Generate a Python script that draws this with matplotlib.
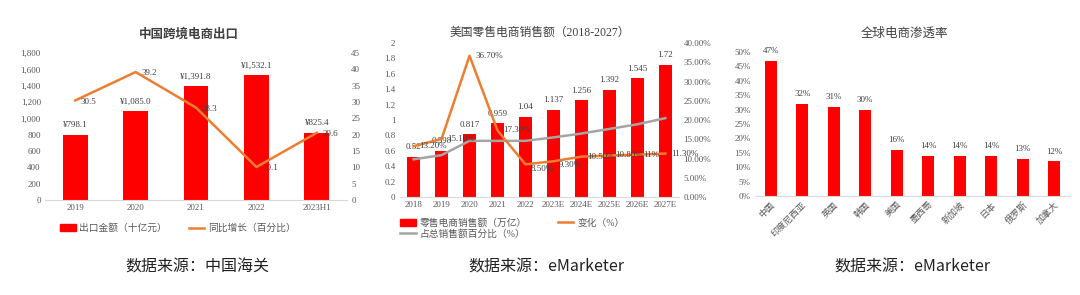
import matplotlib
matplotlib.use("Agg")
import matplotlib.pyplot as plt
from matplotlib.patches import Patch
from matplotlib.lines import Line2D
import numpy as np

plt.rcParams['font.family'] = ['Liberation Serif', 'Noto Sans CJK SC', 'DejaVu Sans']

RED = '#FF0000'
ORANGE = '#ED7D31'
GRAY = '#A5A5A5'
TXT = '#595959'

# chart 1: 中国跨境电商出口
years1 = ['2019', '2020', '2021', '2022', '2023H1']
export_amt = [798.1, 1085.0, 1391.8, 1532.1, 825.4]
export_yoy = [30.5, 39.2, 28.3, 10.1, 20.6]

# chart 2: 美国零售电商销售额
years2 = ['2018', '2019', '2020', '2021', '2022', '2023E', '2024E', '2025E', '2026E', '2027E']
us_sales = [0.52, 0.598, 0.817, 0.959, 1.04, 1.137, 1.256, 1.392, 1.545, 1.72]
us_change = [13.2, 15.1, 36.7, 17.3, 8.5, 9.3, 10.5, 10.8, 11.0, 11.3]
us_change_lbl = ['13.20%', '15.10%', '36.70%', '17.30%', '8.50%', '9.30%', '10.50%', '10.80%', '11%', '11.30%']
us_share = [9.8, 10.9, 14.6, 14.6, 14.6, 15.5, 16.5, 17.7, 18.9, 20.5]

# chart 3: 全球电商渗透率
countries = ['中国', '印度尼西亚', '英国', '韩国', '美国', '墨西哥', '新加坡', '日本', '俄罗斯', '加拿大']
penetration = [47, 32, 31, 30, 16, 14, 14, 14, 13, 12]

fig = plt.figure(figsize=(10.8, 2.95), dpi=100)


def style(ax):
    for s in ['top', 'left', 'right']:
        ax.spines[s].set_visible(False)
    ax.spines['bottom'].set_color('#D9D9D9')
    ax.tick_params(axis='both', length=0, labelsize=6.5, colors=TXT, pad=3)


# ---- chart 1
ax1 = fig.add_axes([0.0417, 0.322, 0.2796, 0.498])
x1 = np.arange(len(years1))
ax1.bar(x1, export_amt, width=0.41, color=RED)
ax1.set_xlim(-0.5, len(years1) - 0.5)
ax1.set_ylim(0, 1800)
ax1.set_yticks(np.arange(0, 1801, 200))
ax1.set_yticklabels([f'{v:,}' for v in range(0, 1801, 200)])
ax1.set_xticks(x1)
ax1.set_xticklabels(years1)
style(ax1)
for xi, v in zip(x1, export_amt):
    ax1.annotate(f'¥{v:,.1f}', (xi, v), xytext=(0, 4), textcoords='offset points',
                 ha='center', va='bottom', fontsize=6.5, color='#404040')
ax1b = ax1.twinx()
ax1b.plot(x1, export_yoy, color=ORANGE, lw=1.8)
ax1b.set_ylim(0, 45)
ax1b.set_yticks(range(0, 46, 5))
style(ax1b)
ax1b.spines['bottom'].set_visible(False)
for xi, v in zip(x1, export_yoy):
    ax1b.annotate(f'{v}', (xi, v), xytext=(4, -1), textcoords='offset points',
                  ha='left', va='center', fontsize=6.5, color='#404040')
ax1.set_title('中国跨境电商出口', fontsize=9, color='#404040', fontweight='bold',
              pad=11, x=0.475)
ax1.legend(handles=[Patch(color=RED, label='出口金额（十亿元）'),
                    Line2D([], [], color=ORANGE, lw=1.8, label='同比增长（百分比）')],
           loc='upper center', bbox_to_anchor=(0.44, -0.1), ncol=2, frameon=False,
           fontsize=7, handlelength=1.6, handleheight=0.8, columnspacing=2.2,
           handletextpad=0.4, labelcolor=TXT)

# ---- chart 2
ax2 = fig.add_axes([0.370, 0.332, 0.259, 0.522])
x2 = np.arange(len(years2))
ax2.bar(x2, us_sales, width=0.46, color=RED)
ax2.set_xlim(-0.5, len(years2) - 0.5)
ax2.set_ylim(0, 2)
ax2.set_yticks(np.arange(0, 2.01, 0.2))
ax2.set_yticklabels(['0', '0.2', '0.4', '0.6', '0.8', '1', '1.2', '1.4', '1.6', '1.8', '2'])
ax2.set_xticks(x2)
ax2.set_xticklabels(years2)
style(ax2)
for xi, v in zip(x2, us_sales):
    ax2.annotate(f'{v:g}', (xi, v), xytext=(0, 4), textcoords='offset points',
                 ha='center', va='bottom', fontsize=6.5, color='#404040')
ax2b = ax2.twinx()
ax2b.plot(x2, us_share, color=GRAY, lw=1.8)
ax2b.plot(x2, us_change, color=ORANGE, lw=1.8)
ax2b.set_ylim(0, 40)
ax2b.set_yticks(range(0, 41, 5))
ax2b.set_yticklabels([f'{v:.2f}%' for v in range(0, 41, 5)])
style(ax2b)
ax2b.spines['bottom'].set_visible(False)
for xi, v, lb in zip(x2, us_change, us_change_lbl):
    dy = -3 if xi in (4, 5) else 0
    ax2b.annotate(lb, (xi, v), xytext=(4, dy), textcoords='offset points',
                  ha='left', va='center', fontsize=6.5, color='#404040')
ax2.set_title('美国零售电商销售额（2018-2027）', fontsize=8.5, color='#404040', pad=5)
ax2.legend(handles=[Patch(color=RED, label='零售电商销售额（万亿）'),
                    Line2D([], [], color=GRAY, lw=1.8, label='占总销售额百分比（%）'),
                    Line2D([], [], color=ORANGE, lw=1.8, label='变化（%）')],
           loc='upper left', bbox_to_anchor=(-0.03, -0.08), ncol=2, frameon=False,
           fontsize=7, handlelength=1.6, handleheight=0.8, columnspacing=3.2,
           handletextpad=0.4, labelspacing=0.1, labelcolor=TXT)

# ---- chart 3
ax3 = fig.add_axes([0.699, 0.3356, 0.2917, 0.488])
x3 = np.arange(len(countries))
ax3.bar(x3, penetration, width=0.38, color=RED)
ax3.set_xlim(-0.5, len(countries) - 0.5)
ax3.set_ylim(0, 50)
ax3.set_yticks(range(0, 51, 5))
ax3.set_yticklabels([f'{v}%' for v in range(0, 51, 5)])
ax3.set_xticks(x3)
ax3.set_xticklabels(countries, rotation=45, ha='right', rotation_mode='anchor')
style(ax3)
for xi, v in zip(x3, penetration):
    ax3.annotate(f'{v}%', (xi, v), xytext=(0, 4), textcoords='offset points',
                 ha='center', va='bottom', fontsize=6.5, color='#404040')
ax3.set_title('全球电商渗透率', fontsize=9, color='#404040', pad=11, x=0.475)

# sources
for xc, s in [(0.183, '数据来源：中国海关'), (0.506, '数据来源：eMarketer'), (0.845, '数据来源：eMarketer')]:
    fig.text(xc, 0.095, s, ha='center', va='center', fontsize=11.5,
             family=['Noto Sans CJK SC', 'DejaVu Sans'], color='#222222')

fig.savefig('out.png', dpi=100)
